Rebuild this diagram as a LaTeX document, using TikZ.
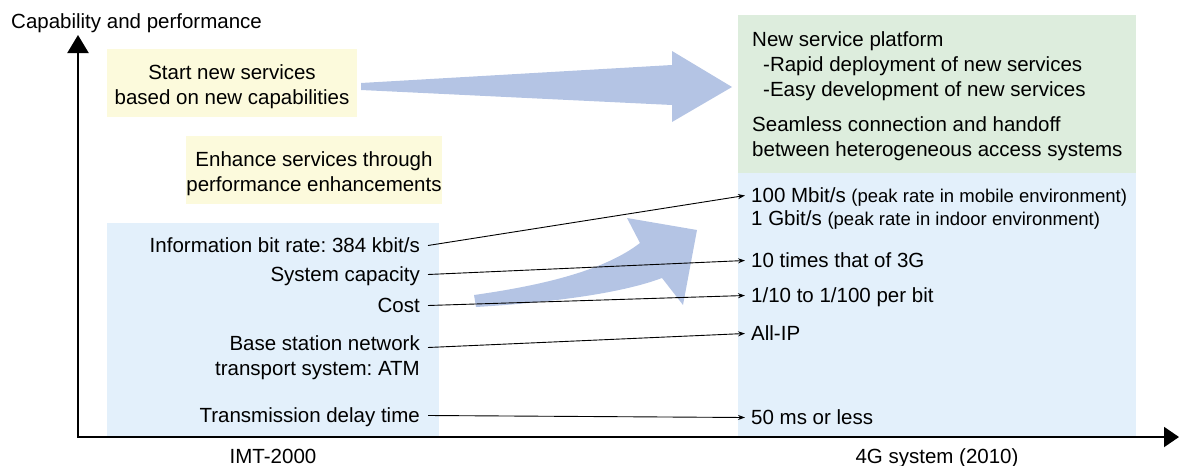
\documentclass[tikz,border=0pt]{standalone}
\usepackage{fontspec}
\setmainfont{Liberation Sans}
\frenchspacing
\usetikzlibrary{arrows.meta, positioning}
\definecolor{imtyellow}{HTML}{FCFADC}
\definecolor{imtblue}{HTML}{E3F0FB}
\definecolor{imtgreen}{HTML}{DDEDDD}
\definecolor{imtarrow}{HTML}{B4C4E4}
\newcommand{\bodyfont}{\fontsize{20.5}{25}\selectfont}
\newcommand{\notefont}{\fontsize{18.5}{22}\selectfont}
\newcommand{\topstrut}{\rule{0pt}{23pt}}

\begin{document}
\begin{tikzpicture}[x=1pt, y=-1pt,
  goal/.style={fill=imtyellow, minimum width=250pt, minimum height=68pt,
               inner sep=0pt, font=\bodyfont, align=center},
  oldtxt/.style={anchor=base east, font=\bodyfont, inner ysep=0pt, inner xsep=8pt,
                 text height=17pt, text depth=4pt},
  newtxt/.style={anchor=base west, font=\bodyfont, inner ysep=0pt, inner xsep=6pt,
                 text height=17pt, text depth=4pt},
  boxtxt/.style={anchor=north west, font=\bodyfont, inner sep=5pt, align=left},
  axis/.style={line width=2pt, {Triangle[length=18pt, width=21pt]}-{Triangle[length=15pt, width=20pt]}},
  link/.style={line width=0.9pt, -{Stealth[length=7pt, width=5pt]}}
]
  \useasboundingbox (0,0) rectangle (1179,466);

  \fill[imtblue] (107,223) rectangle (439,437);
  \fill[imtgreen] (738,15) rectangle (1136,173);
  \fill[imtblue] (738,173) rectangle (1136,437);

  \node[goal] (newsvc) at (232,83) {\topstrut Start new services\\based on new capabilities};
  \node[goal] (enhsvc) at (314,170) {\topstrut Enhance services through\\performance enhancements};

  \fill[imtarrow] (361,83) -- (672,65) -- (672,51) -- (732,87) -- (672,122) -- (672,105) -- (361,90) -- cycle;
  \fill[imtarrow] (474,295) .. controls (545,285) and (605,270) .. (640,243) -- (627,218) -- (697,230)
    -- (683,305) -- (662,278) .. controls (625,292) and (560,302) .. (476,307) -- cycle;

  \coordinate (ytop) at (78,35);
  \coordinate (origin) at (78,437);
  \coordinate (xend) at (1179,437);
  \draw[axis] (ytop) -- (origin) -- (xend);

  \node[anchor=base west, font=\bodyfont, inner sep=5pt] (ylabel) at (6,28) {Capability and performance};
  \node[anchor=base, font=\bodyfont] (imt) at (273,463) {IMT-2000};
  \node[anchor=base, font=\bodyfont] (fourg) at (937,463) {4G system (2010)};

  \node[boxtxt] (platform) at (747,26) {New service platform\\\hspace{11pt}-Rapid deployment of new services\\\hspace{11pt}-Easy development of new services};
  \node[boxtxt] (handoff) at (747,111) {Seamless connection and handoff\\between heterogeneous access systems};

  \node[oldtxt] (rate) at (428,252) {Information bit rate: 384 kbit/s};
  \node[oldtxt] (capacity) at (428,281) {System capacity};
  \node[oldtxt] (cost) at (428,312) {Cost};
  \node[oldtxt] (basenet) at (428,350) {Base station network};
  \node[oldtxt] (atm) at (428,375) {transport system: ATM};
  \node[oldtxt] (delay) at (428,422) {Transmission delay time};

  \node[newtxt] (peak) at (745,202) {100 Mbit/s {\notefont(peak rate in mobile environment)}};
  \node[newtxt] (indoor) at (745,225) {1 Gbit/s {\notefont(peak rate in indoor environment)}};
  \node[newtxt] (tenx) at (745,267) {10 times that of 3G};
  \node[newtxt] (percost) at (745,302) {1/10 to 1/100 per bit};
  \node[newtxt] (allip) at (745,340) {All-IP};
  \node[newtxt] (fifty) at (745,424) {50 ms or less};

  \draw[link] (rate.east) -- (peak.west);
  \draw[link] (capacity.east) -- (tenx.west);
  \draw[link] (cost.east) -- (percost.west);
  \draw[link] ([yshift=-4pt]basenet.east) -- (allip.west);
  \draw[link] (delay.east) -- (fifty.west);
\end{tikzpicture}
\end{document}
